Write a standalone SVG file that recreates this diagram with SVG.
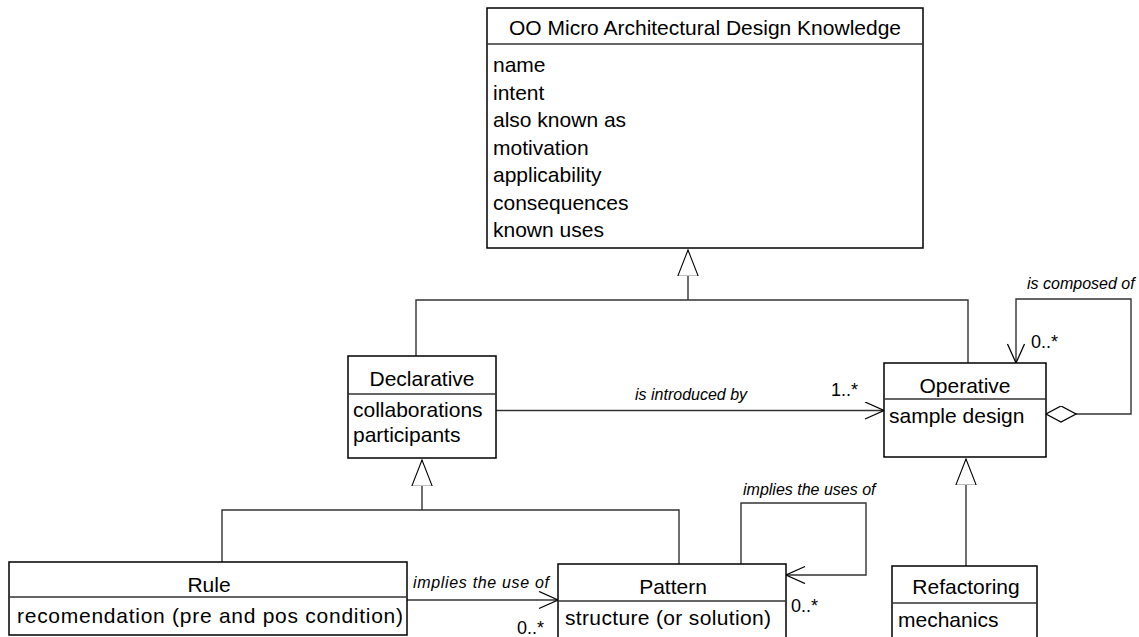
<svg xmlns="http://www.w3.org/2000/svg" width="1139" height="637" viewBox="0 0 1139 637">
  <style>
    .box { fill: #fff; stroke: #000; stroke-width: 1.5; }
    .sep { stroke: #333; stroke-width: 1.3; }
    .name { font-family: "Liberation Sans", Arial, sans-serif; font-size: 21px; fill: #000; text-anchor: middle; }
    .attr { font-family: "Liberation Sans", Arial, sans-serif; font-size: 21px; fill: #000; }
    .role { font-family: "Liberation Sans", Arial, sans-serif; font-size: 16px; font-style: italic; fill: #000; }
    .mult { font-family: "Liberation Sans", Arial, sans-serif; font-size: 18px; fill: #000; }
    .conn { fill: none; stroke: #333; stroke-width: 1.4; }
  </style>
  <defs>
    <!-- hollow triangle for generalization -->
    <marker id="inherit" markerUnits="userSpaceOnUse" markerWidth="28" markerHeight="36" refX="32" refY="12.5" orient="auto" viewBox="0 0 34 26">
      <path d="M0,0 L32,12.5 L0,25 Z" fill="#fff" stroke="#000" stroke-width="1.3"/>
    </marker>
    <!-- open navigable arrow -->
    <marker id="open" markerUnits="userSpaceOnUse" markerWidth="22" markerHeight="20" refX="20" refY="9" orient="auto" viewBox="0 0 22 20">
      <path d="M1,0.5 L20,9 L1,17.5" fill="none" stroke="#000" stroke-width="1.3"/>
    </marker>
    <!-- hollow aggregation diamond -->
    <marker id="agg" markerUnits="userSpaceOnUse" markerWidth="32" markerHeight="18" refX="0.5" refY="8.5" orient="auto" viewBox="0 0 32 18">
      <path d="M0.5,8.5 L15.5,0.5 L30.5,8.5 L15.5,16.5 Z" fill="#fff" stroke="#000" stroke-width="1.3"/>
    </marker>
  </defs>

  <g id="connectors">
    <!-- generalization: Declarative / Operative to the root -->
    <path class="conn" d="M416,356 V300 H968 V363"/>
    <path class="conn" d="M688,300 V250" marker-end="url(#inherit)"/>
    <!-- generalization: Rule / Pattern to Declarative -->
    <path class="conn" d="M222,562 V510 H679 V564"/>
    <path class="conn" d="M422,510 V460" marker-end="url(#inherit)"/>
    <!-- generalization: Refactoring to Operative -->
    <path class="conn" d="M966,566 V459" marker-end="url(#inherit)"/>
    <!-- is introduced by -->
    <path class="conn" d="M496,410.5 H884" marker-end="url(#open)"/>
    <!-- is composed of (self aggregation) -->
    <path class="conn" d="M1046,414 H1131 V299 H1016 V363" marker-start="url(#agg)" marker-end="url(#open)"/>
    <!-- implies the use of -->
    <path class="conn" d="M407,600 H558" marker-end="url(#open)"/>
    <!-- implies the uses of (self association) -->
    <path class="conn" d="M741,564 V503 H866 V575 H786" marker-end="url(#open)"/>

    <text class="role" x="635" y="400">is introduced by</text>
    <text class="mult" x="831" y="396">1..*</text>
    <text class="role" x="1027" y="289">is composed of</text>
    <text class="mult" x="1031" y="348">0..*</text>
    <text class="role" x="413" y="588" textLength="136">implies the use of</text>
    <text class="mult" x="517" y="634">0..*</text>
    <text class="role" x="743" y="495">implies the uses of</text>
    <text class="mult" x="791" y="612">0..*</text>
  </g>

  <g id="knowledge">
    <rect class="box" x="487" y="8" width="436" height="240"/>
    <line class="sep" x1="487" y1="44" x2="923" y2="44"/>
    <text class="name" x="705" y="35" textLength="392">OO Micro Architectural Design Knowledge</text>
    <text class="attr" x="493" y="72">name</text>
    <text class="attr" x="493" y="99.5">intent</text>
    <text class="attr" x="493" y="127">also known as</text>
    <text class="attr" x="493" y="154.5">motivation</text>
    <text class="attr" x="493" y="182">applicability</text>
    <text class="attr" x="493" y="209.5">consequences</text>
    <text class="attr" x="493" y="237">known uses</text>
  </g>

  <g id="declarative">
    <rect class="box" x="348" y="356" width="148" height="102"/>
    <line class="sep" x1="348" y1="394" x2="496" y2="394"/>
    <text class="name" x="422" y="386">Declarative</text>
    <text class="attr" x="353" y="417">collaborations</text>
    <text class="attr" x="353" y="442">participants</text>
  </g>

  <g id="operative">
    <rect class="box" x="884" y="363" width="162" height="94"/>
    <line class="sep" x1="884" y1="399" x2="1046" y2="399"/>
    <text class="name" x="965" y="393">Operative</text>
    <text class="attr" x="889" y="423">sample design</text>
  </g>

  <g id="rule">
    <rect class="box" x="9" y="562" width="398" height="73"/>
    <line class="sep" x1="9" y1="597" x2="407" y2="597"/>
    <text class="name" x="209" y="592">Rule</text>
    <text class="attr" x="17" y="623" textLength="386">recomendation (pre and pos condition)</text>
  </g>

  <g id="pattern">
    <rect class="box" x="558" y="564" width="228" height="90"/>
    <line class="sep" x1="558" y1="601" x2="786" y2="601"/>
    <text class="name" x="673" y="594">Pattern</text>
    <text class="attr" x="565" y="625" textLength="206">structure (or solution)</text>
  </g>

  <g id="refactoring">
    <rect class="box" x="892" y="566" width="145" height="90"/>
    <line class="sep" x1="892" y1="603" x2="1037" y2="603"/>
    <text class="name" x="966" y="594">Refactoring</text>
    <text class="attr" x="898" y="627">mechanics</text>
  </g>
</svg>
